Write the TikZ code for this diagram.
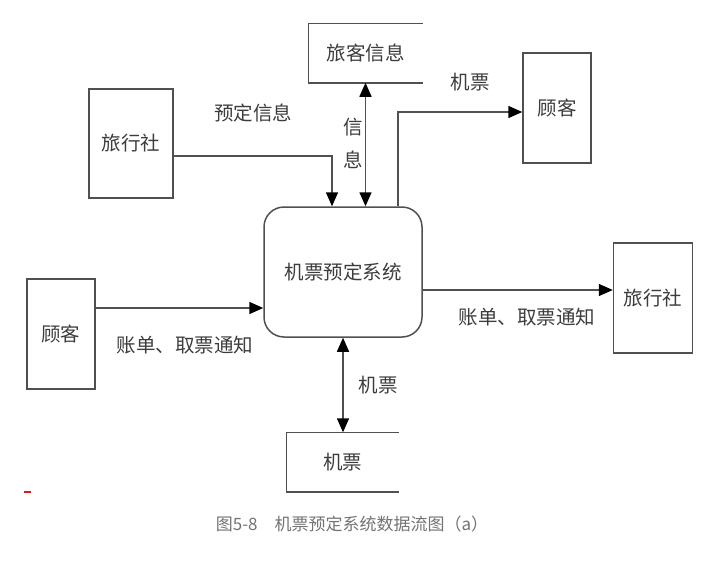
\documentclass[tikz,border=0pt]{standalone}
\usepackage{fontspec}
\setmainfont{Noto Sans CJK SC}
\usetikzlibrary{arrows.meta,positioning}
\definecolor{my_line}{RGB}{80,80,80}
\definecolor{my_text}{RGB}{60,60,60}
\definecolor{my_cap}{RGB}{115,115,115}
\definecolor{my_red}{RGB}{210,30,30}
\tikzset{
  extbox/.style = {draw=my_line, line width=1.5pt, text=my_text, inner sep=0pt,
  align=center, font=\fontsize{19.5}{19.5}\selectfont},
  procbox/.style = {extbox, rounded corners=20pt},
  storebox/.style = {extbox, draw=none},
  lbl/.style = {text=my_text, inner sep=0pt, align=center, font=\fontsize{19.5}{33}\selectfont},
  tip/.style = {Triangle[length=14pt,width=12pt,fill=black,color=black]},
  flow/.style = {draw=my_line, line width=1.5pt, -{Triangle[length=14pt,width=12pt,color=black]}},
  bothflow/.style = {draw=my_line, line width=1.5pt,
  {Triangle[length=14pt,width=12pt,color=black]}-{Triangle[length=14pt,width=12pt,color=black]}}
}

\begin{document}
\begin{tikzpicture}[x=1pt,y=-1pt]
  \useasboundingbox (0,0) rectangle (710,560);
  % process
  \node [procbox, minimum width=158pt, minimum height=130pt] (sys) at (343,272) {机票预定系统};
  % external entities
  \node [extbox, minimum width=84pt, minimum height=109pt] (ltravel) at (131,143.5) {旅行社};
  \node [extbox, minimum width=68pt, minimum height=110pt] (lcust) at (61,334) {顾客};
  \node [extbox, minimum width=68pt, minimum height=110pt] (rcust) at (557,108) {顾客};
  \node [extbox, minimum width=79pt, minimum height=110pt] (rtravel) at (653,298) {旅行社};
  % data stores
  \node [storebox, minimum width=113pt, minimum height=58pt] (guest) at (365.5,53) {旅客信息};
  \node [storebox, minimum width=111pt, minimum height=58pt] (ticket) at (342.5,462) {机票};
  \draw [my_line, line width=1.5pt] (guest.north east) -- (guest.north west)
    -- (guest.south west) -- (guest.south east);
  \draw [my_line, line width=1.5pt] (ticket.north east) -- (ticket.north west)
    -- (ticket.south west) -- (ticket.south east);

  % flows
  \coordinate (lt_out) at ([yshift=-12.5pt]ltravel.east);
  \coordinate (lc_out) at ([yshift=26pt]lcust.east);
  \coordinate (sys_r) at ([yshift=-18pt]sys.east);
  \draw [flow] (lt_out) -| ([xshift=-11pt]sys.north);
  \draw [bothflow] (guest.south) -- (guest.south |- sys.north);
  \draw [flow] ([xshift=55pt]sys.north) |- ([yshift=-4pt]rcust.west);
  \draw [flow] (lc_out) -- (lc_out -| sys.west);
  \draw [flow] (sys_r) -- (sys_r -| rtravel.west);
  \draw [bothflow] (sys.south) -- (sys.south |- ticket.north);

  % labels
  \node [lbl] (l_book) at (253,113) {预定信息};
  \node [lbl] (l_info) at (353,143) {信\\息};
  \node [lbl] (l_tk1) at (470,82) {机票};
  \node [lbl] (l_bill1) at (185,345) {账单、取票通知};
  \node [lbl] (l_bill2) at (527,317) {账单、取票通知};
  \node [lbl] (l_tk2) at (378,385) {机票};

  % caption
  \node [text=my_cap, inner sep=0pt, font=\fontsize{17}{17}\selectfont] (cap) at (352,524)
    {图5-8\quad 机票预定系统数据流图（a）};
  \draw [my_red, line width=2pt] (24,492) -- (31,492);
\end{tikzpicture}
\end{document}
